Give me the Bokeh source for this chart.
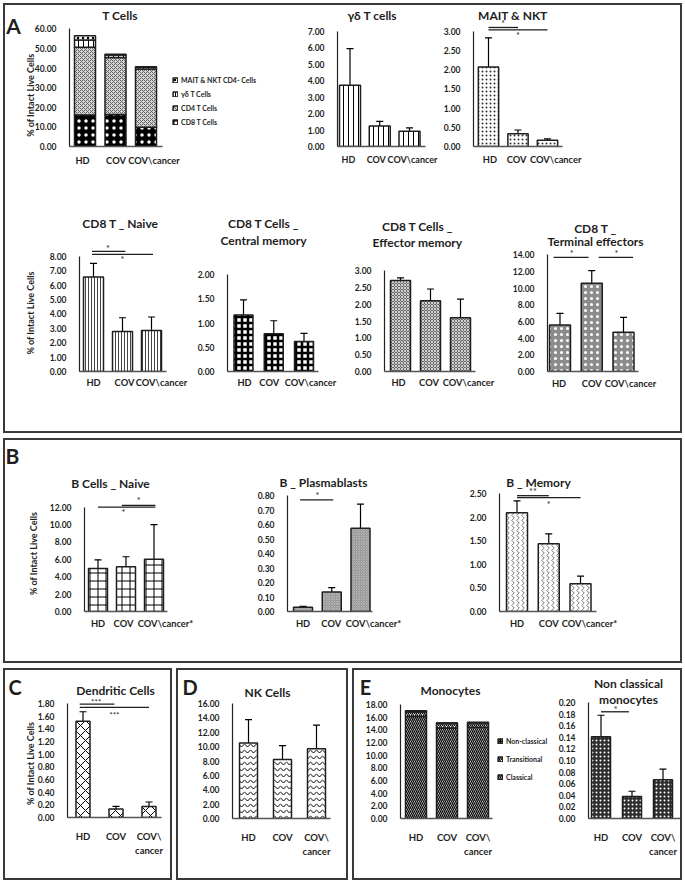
import numpy as np
from math import pi
from bokeh.plotting import figure
from bokeh.layouts import row, column
from bokeh.models import (Range1d, FixedTicker, NumeralTickFormatter, Whisker, TeeHead,
                          ColumnDataSource, Legend, LegendItem)
from bokeh.core.properties import value
from bokeh.embed import file_html
from bokeh.resources import INLINE

FONT = "Lato"
INK = "#1e1e1e"
FRAME = "2px solid #3a3a3a"

# ---------------- data ----------------
categories = ["HD", "COV", "COV\\cancer"]
categories_b = ["HD", "COV", "COV\\cancer*"]
categories_2l = ["HD", "COV", "COV\\\ncancer"]

# A - T cells (stacked)
tcell_series = ["CD8 T Cells", "CD4 T Cells", "\u03b3\u03b4 T Cells", "MAIT & NKT CD4- Cells"]
tcell_cd8 = [16.0, 16.3, 9.8]
tcell_cd4 = [34.6, 29.1, 29.7]
tcell_gd = [3.7, 1.25, 0.93]
tcell_mait = [2.1, 0.35, 0.17]

gd_mean = [3.72, 1.25, 0.93]
gd_err = [2.23, 0.28, 0.20]
mait_mean = [2.07, 0.33, 0.16]
mait_err = [0.76, 0.10, 0.04]
mait_sig_x0 = [0.0, 0.0]
mait_sig_x1 = [1.0, 2.0]
mait_sig_y = [3.10, 3.04]
mait_star_x = [0.5, 1.0]
mait_star_y = [3.20, 2.88]
mait_star_txt = ["*", "*"]

naive_mean = [6.55, 2.78, 2.85]
naive_err = [0.95, 0.95, 0.93]
naive_sig_x0 = [-0.05, -0.05]
naive_sig_x1 = [1.1, 2.05]
naive_sig_y = [8.33, 8.12]
naive_star_x = [0.5, 1.0]
naive_star_y = [8.55, 7.75]
naive_star_txt = ["*", "*"]

cm_mean = [1.17, 0.78, 0.62]
cm_err = [0.31, 0.27, 0.17]

em_mean = [2.70, 2.10, 1.60]
em_err = [0.08, 0.35, 0.55]

te_mean = [5.58, 10.6, 4.70]
te_err = [1.40, 1.50, 1.80]
te_sig_x0 = [-0.2, 1.22]
te_sig_x1 = [0.9, 2.3]
te_sig_y = [13.7, 13.7]
te_star_x = [0.37, 1.78]
te_star_y = [14.2, 14.2]
te_star_txt = ["*", "*"]

# B
bn_mean = [4.95, 5.15, 6.00]
bn_err = [1.00, 1.15, 4.00]
bn_sig_x0 = [0.0, 0.85]
bn_sig_x1 = [2.05, 2.05]
bn_sig_y = [12.0, 12.22]
bn_star_x = [1.45, 0.91]
bn_star_y = [12.75, 11.35]
bn_star_txt = ["*", "*"]

pb_mean = [0.03, 0.135, 0.575]
pb_err = [0.005, 0.03, 0.165]
pb_sig_x0 = [-0.1]
pb_sig_x1 = [1.05]
pb_sig_y = [0.77]
pb_star_x = [0.5]
pb_star_y = [0.80]
pb_star_txt = ["*"]

bm_mean = [2.10, 1.44, 0.59]
bm_err = [0.25, 0.21, 0.16]
bm_sig_x0 = [0.0, 0.0]
bm_sig_x1 = [1.0, 2.0]
bm_sig_y = [2.46, 2.42]
bm_star_x = [0.5, 1.0]
bm_star_y = [2.55, 2.27]
bm_star_txt = ["**", "*"]

# C
dc_mean = [1.52, 0.135, 0.175]
dc_err = [0.15, 0.04, 0.07]
dc_sig_x0 = [-0.1, -0.1]
dc_sig_x1 = [0.95, 2.0]
dc_sig_y = [1.79, 1.74]
dc_star_x = [0.4, 0.95]
dc_star_y = [1.83, 1.62]
dc_star_txt = ["***", "***"]

# D
nk_mean = [10.5, 8.2, 9.7]
nk_err = [3.25, 1.95, 3.3]

# E
mono_series = ["Classical", "Transitional", "Non-classical"]
mono_classical = [16.1, 14.3, 14.4]
mono_transitional = [0.76, 0.76, 0.73]
mono_nonclassical = [0.141, 0.038, 0.067]

nc_mean = [0.141, 0.038, 0.067]
nc_err = [0.037, 0.009, 0.018]
nc_sig_x0 = [0.0]
nc_sig_x1 = [0.9]
nc_sig_y = [0.184]
nc_star_x = [0.47]
nc_star_y = [0.188]
nc_star_txt = ["*"]


# ---------------- helpers ----------------
def add_text(p, xs, ys, texts, size, angle=0.0, bold=True):
    p.text(x=xs, y=ys, text=texts, angle=angle, text_font=value(FONT),
           text_font_style="bold" if bold else "normal", text_font_size=size,
           text_align="center", text_baseline="middle", text_color=INK, level="overlay")


def make_chart(canvas, axis_x, axis_end, c0, step_px, zero_px, top_px, ymax, ytick,
               xlabels, lab_off=None, lab_y=None, lab_size="9.3px"):
    x0, y0, w, h = canvas
    k = (zero_px - top_px) / ymax

    def dx(px):
        return (px - c0) / step_px

    def dy(py):
        return (zero_px - py) / k

    p = figure(width=w, height=h, title=None, output_backend="svg", toolbar_location=None,
               x_range=Range1d(dx(axis_x), dx(x0 + w)), y_range=Range1d(0, dy(y0)),
               min_border_left=axis_x - x0, min_border_right=0, min_border_top=0,
               min_border_bottom=y0 + h - zero_px)
    p.outline_line_color = None
    p.xgrid.visible = False
    p.ygrid.visible = False
    p.background_fill_color = "white"
    p.border_fill_color = "white"

    xa = p.xaxis[0]
    xa.bounds = (dx(axis_x), dx(axis_end))
    xa.axis_line_color = "#555555"
    xa.axis_line_width = 1.5
    xa.major_tick_line_color = None
    xa.minor_tick_line_color = None
    xa.major_label_standoff = 7
    xa.major_label_text_font = FONT
    xa.major_label_text_font_style = "bold"
    xa.major_label_text_font_size = "9.5px"
    xa.major_label_text_color = INK
    xa.major_label_text_line_height = 1.3
    if lab_off is None:
        xa.ticker = FixedTicker(ticks=list(range(len(xlabels))))
        xa.major_label_overrides = {i: lab for i, lab in enumerate(xlabels)}
    else:
        # category names drawn as text, nudged sideways so that they don't collide
        xa.ticker = FixedTicker(ticks=[])
        xs = [i + o / step_px for i, o in enumerate(lab_off)]
        add_text(p, xs, [dy(lab_y)] * len(xlabels), xlabels, lab_size)

    ya = p.yaxis[0]
    n = int(round(ymax / ytick))
    ya.ticker = FixedTicker(ticks=[round(ytick * i, 6) for i in range(n + 1)])
    ya.formatter = NumeralTickFormatter(format="0.00")
    ya.bounds = (0, ymax)
    ya.axis_line_color = "#222222"
    ya.axis_line_width = 1.2
    ya.major_tick_line_color = None
    ya.minor_tick_line_color = None
    ya.major_label_standoff = 7
    ya.major_label_text_font = FONT
    ya.major_label_text_font_style = "bold"
    ya.major_label_text_font_size = "8.5px"
    ya.major_label_text_color = INK
    return p, dx, dy


def add_bars(p, vals, errs, width, **style):
    xs = list(range(len(vals)))
    src = ColumnDataSource(dict(x=xs, top=vals,
                                lower=list(np.subtract(vals, errs)),
                                upper=list(np.add(vals, errs))))
    p.vbar(x="x", top="top", bottom=0, width=width, source=src,
           line_color=INK, line_width=1.5, **style)
    head = dict(size=7, line_color="black", line_width=1.2)
    p.add_layout(Whisker(source=src, base="x", upper="upper", lower="lower",
                         line_color="black", line_width=1.2,
                         upper_head=TeeHead(**head), lower_head=TeeHead(**head)))


def add_sig(p, x0, x1, y, sx, sy, txt, size="9px"):
    p.segment(x0=x0, y0=y, x1=x1, y1=y, line_color=INK, line_width=1.3, level="overlay")
    add_text(p, sx, sy, txt, size, bold=False)


def add_label(p, dx, dy, px, py, text, size="12px", angle=0.0):
    add_text(p, [dx(px)], [dy(py)], [text], size, angle=angle)


YLAB = "% of Intact Live Cells"

# ---------------- Panel A ----------------
pT, dx, dy = make_chart((5, 5, 285, 170), 69, 162, 84.5, 30.5, 146, 28.3, 60, 10,
                        categories, [-2.5, 0.5, 8], 160)
bw = 21 / 30.5
xs = list(range(3))
b1 = np.array(tcell_cd8)
b2 = b1 + np.array(tcell_cd4)
b3 = b2 + np.array(tcell_gd)
b4 = b3 + np.array(tcell_mait)
r1 = pT.vbar(x=xs, bottom=0, top=list(b1), width=bw, fill_color="black", line_color=INK,
             line_width=1.5, hatch_pattern=".", hatch_color="white", hatch_scale=7)
r2 = pT.vbar(x=xs, bottom=list(b1), top=list(b2), width=bw, fill_color="#d4d4d4", line_color=INK,
             line_width=1.5, hatch_pattern="x", hatch_color="#666666", hatch_scale=4)
r3 = pT.vbar(x=xs, bottom=list(b2), top=list(b3), width=bw, fill_color="white", line_color=INK,
             line_width=1.5, hatch_pattern="|", hatch_color="black", hatch_scale=5)
r4 = pT.vbar(x=xs, bottom=list(b3), top=list(b4), width=bw, fill_color="white", line_color=INK,
             line_width=1.5, hatch_pattern=".", hatch_color="black", hatch_scale=5)
legT = Legend(items=[LegendItem(label=tcell_series[3], renderers=[r4]),
                     LegendItem(label=tcell_series[2], renderers=[r3]),
                     LegendItem(label=tcell_series[1], renderers=[r2]),
                     LegendItem(label=tcell_series[0], renderers=[r1])],
              location=(103, 20), glyph_width=6, glyph_height=6, label_height=7,
              label_standoff=3, spacing=6, padding=0, margin=0,
              border_line_color=None, background_fill_alpha=0,
              label_text_font=FONT, label_text_font_style="bold",
              label_text_font_size="7px", label_text_color=INK)
pT.add_layout(legT)
add_label(pT, dx, dy, 119.5, 14.5, "T Cells")
add_label(pT, dx, dy, 13, 24.5, "A", size="21px")
add_label(pT, dx, dy, 30, 94.7, YLAB, size="9px", angle=pi / 2)

pGD, dx, dy = make_chart((290, 5, 150, 170), 337, 425, 349.5, 29.75, 147, 31, 7, 1,
                         categories, [-1.5, -3.5, 3], 160, "9px")
add_bars(pGD, gd_mean, gd_err, 21 / 29.75, fill_color="white", hatch_pattern="|",
         hatch_color="black", hatch_scale=5)
add_label(pGD, dx, dy, 371.7, 15, "\u03b3\u03b4 T cells")

pMA, dx, dy = make_chart((440, 5, 240, 170), 466, 558, 481.5, 30.5, 147, 31, 3, 0.5,
                         categories, [1.5, -1.5, 8.5], 160)
add_bars(pMA, mait_mean, mait_err, 21 / 30.5, fill_color="white", hatch_pattern=".",
         hatch_color="#333333", hatch_scale=4)
add_sig(pMA, mait_sig_x0, mait_sig_x1, mait_sig_y, mait_star_x, mait_star_y, mait_star_txt)
add_label(pMA, dx, dy, 506.7, 15, "MAIT & NKT")

pN, dx, dy = make_chart((5, 175, 185, 256), 79, 166, 93, 29, 371, 255.7, 8, 1,
                        categories, [0, 2, 10], 382)
add_bars(pN, naive_mean, naive_err, 20 / 29, fill_color="white", hatch_pattern="|",
         hatch_color="#444444", hatch_scale=3)
add_sig(pN, naive_sig_x0, naive_sig_x1, naive_sig_y, naive_star_x, naive_star_y, naive_star_txt)
add_label(pN, dx, dy, 120, 223, "CD8 T _ Naive")
add_label(pN, dx, dy, 30, 312.5, YLAB, size="9px", angle=pi / 2)

pCM, dx, dy = make_chart((190, 175, 150, 256), 227, 318, 243, 30.25, 371, 274.3, 2, 0.5,
                         categories, [1, -4.5, 6.5], 382)
add_bars(pCM, cm_mean, cm_err, 19 / 30.25, fill_color="white", hatch_pattern="+",
         hatch_color="black", hatch_scale=6, hatch_weight=2.5)
add_label(pCM, dx, dy, 263, 223.3, "CD8 T Cells _")
add_label(pCM, dx, dy, 263, 240, "Central memory")

pEM, dx, dy = make_chart((340, 175, 158, 256), 384, 475, 400, 30, 371, 270, 3, 0.5,
                         categories, [-2, -1.5, 8], 382)
add_bars(pEM, em_mean, em_err, 20 / 30, fill_color="#6a6a6a", hatch_pattern="x",
         hatch_color="#d0d0d0", hatch_scale=3)
add_label(pEM, dx, dy, 417, 225.7, "CD8 T Cells _")
add_label(pEM, dx, dy, 417, 241.7, "Effector memory")

pTE, dx, dy = make_chart((498, 175, 182, 256), 547, 638, 559.5, 31.75, 371, 254.3, 14, 2,
                         categories, [-1, 0, 7], 382.5)
add_bars(pTE, te_mean, te_err, 21 / 31.75, fill_color="#8c8c8c", hatch_pattern=".",
         hatch_color="white", hatch_scale=6)
add_sig(pTE, te_sig_x0, te_sig_x1, te_sig_y, te_star_x, te_star_y, te_star_txt)
add_label(pTE, dx, dy, 595, 228, "CD8 T _")
add_label(pTE, dx, dy, 595, 241, "Terminal effectors")

# ---------------- Panel B ----------------
pBN, dx, dy = make_chart((5, 440, 215, 221), 84, 167, 97.5, 28, 611, 506.7, 12, 2,
                         categories_b, [0, -2.5, 11.5], 623.3)
add_bars(pBN, bn_mean, bn_err, 19 / 28, fill_color="white", hatch_pattern="+",
         hatch_color="black", hatch_scale=8)
add_sig(pBN, bn_sig_x0, bn_sig_x1, bn_sig_y, bn_star_x, bn_star_y, bn_star_txt)
add_label(pBN, dx, dy, 110, 482.7, "B Cells _ Naive")
add_label(pBN, dx, dy, 12, 455, "B", size="21px")
add_label(pBN, dx, dy, 33, 553, YLAB, size="9px", angle=pi / 2)

pPB, dx, dy = make_chart((220, 440, 220, 221), 287, 372, 302.5, 28.75, 611, 495, 0.8, 0.1,
                         categories_b, [0, -0.5, 13], 623.3)
add_bars(pPB, pb_mean, pb_err, 19 / 28.75, fill_color="#7a7a7a", hatch_pattern="x",
         hatch_color="#bbbbbb", hatch_scale=2.5)
add_sig(pPB, pb_sig_x0, pb_sig_x1, pb_sig_y, pb_star_x, pb_star_y, pb_star_txt)
add_label(pPB, dx, dy, 323, 482, "B _ Plasmablasts")

pBM, dx, dy = make_chart((440, 440, 240, 221), 499, 596, 516.5, 31.75, 611, 493.3, 2.5, 0.5,
                         categories_b, [0, 0, 9], 623.3)
add_bars(pBM, bm_mean, bm_err, 21 / 31.75, fill_color="white", hatch_pattern=">",
         hatch_color="#777777", hatch_scale=5)
add_sig(pBM, bm_sig_x0, bm_sig_x1, bm_sig_y, bm_star_x, bm_star_y, bm_star_txt)
add_label(pBM, dx, dy, 538, 482, "B _ Memory")

# ---------------- Panel C ----------------
pDC, dx, dy = make_chart((5, 670, 165, 208), 67, 161, 82.5, 33, 817, 703, 1.8, 0.2, categories_2l)
add_bars(pDC, dc_mean, dc_err, 14 / 33, fill_color="white", hatch_pattern="x",
         hatch_color="black", hatch_scale=10)
add_sig(pDC, dc_sig_x0, dc_sig_x1, dc_sig_y, dc_star_x, dc_star_y, dc_star_txt, size="8px")
add_label(pDC, dx, dy, 115, 690, "Dendritic Cells")
add_label(pDC, dx, dy, 14.5, 686.5, "C", size="20px")
add_label(pDC, dx, dy, 30, 763, YLAB, size="9px", angle=pi / 2)

# ---------------- Panel D ----------------
pNK, dx, dy = make_chart((178, 670, 168, 208), 232, 330, 248, 34, 818, 703, 16, 2, categories_2l)
add_bars(pNK, nk_mean, nk_err, 18 / 34, fill_color="white", hatch_pattern="v",
         hatch_color="black", hatch_scale=6)
add_label(pNK, dx, dy, 267, 692, "NK Cells")
add_label(pNK, dx, dy, 189.5, 686, "D", size="20px")

# ---------------- Panel E ----------------
pMO, dx, dy = make_chart((354, 670, 196, 208), 400, 492, 415.5, 31, 818, 704, 18, 2, categories_2l)
bwm = 21 / 31
m1 = np.array(mono_classical)
m2 = m1 + np.array(mono_transitional)
m3 = m2 + np.array(mono_nonclassical)
q1 = pMO.vbar(x=xs, bottom=0, top=list(m1), width=bwm, fill_color="white", line_color=INK,
              line_width=1.5, hatch_pattern="\\", hatch_color="black", hatch_scale=4,
              hatch_weight=1.3)
q2 = pMO.vbar(x=xs, bottom=list(m1), top=list(m2), width=bwm, fill_color="white", line_color=INK,
              line_width=1.5, hatch_pattern="/", hatch_color="black", hatch_scale=4,
              hatch_weight=1.3)
q3 = pMO.vbar(x=xs, bottom=list(m2), top=list(m3), width=bwm, fill_color="black", line_color=INK,
              line_width=1.5, hatch_pattern=".", hatch_color="white", hatch_scale=3)
legM = Legend(items=[LegendItem(label=mono_series[2], renderers=[q3]),
                     LegendItem(label=mono_series[1], renderers=[q2]),
                     LegendItem(label=mono_series[0], renderers=[q1])],
              location=(97, 37), glyph_width=6, glyph_height=6, label_height=7,
              label_standoff=3, spacing=10, padding=0, margin=0,
              border_line_color=None, background_fill_alpha=0,
              label_text_font=FONT, label_text_font_style="bold",
              label_text_font_size="7px", label_text_color=INK)
pMO.add_layout(legM)
add_label(pMO, dx, dy, 450, 690, "Monocytes")
add_label(pMO, dx, dy, 365, 686, "E", size="20px")

pNC, dx, dy = make_chart((550, 670, 130, 208), 588, 680, 600.5, 31, 818, 702, 0.2, 0.02, categories_2l)
add_bars(pNC, nc_mean, nc_err, 19 / 31, fill_color="#2e2e2e", hatch_pattern=".",
         hatch_color="white", hatch_scale=4)
add_sig(pNC, nc_sig_x0, nc_sig_x1, nc_sig_y, nc_star_x, nc_star_y, nc_star_txt)
add_label(pNC, dx, dy, 628, 682.7, "Non classical")
add_label(pNC, dx, dy, 628, 699.3, "monocytes")

# ---------------- layout ----------------
boxA = column(row(pT, pGD, pMA), row(pN, pCM, pEM, pTE), styles={"border": FRAME})
boxB = row(pBN, pPB, pBM, styles={"border": FRAME})
boxC = column(pDC, styles={"border": FRAME})
boxD = column(pNK, styles={"border": FRAME})
boxE = row(pMO, pNC, styles={"border": FRAME})
root = column(boxA, boxB, row(boxC, boxD, boxE, spacing=4), spacing=5,
              styles={"margin-left": "3px", "margin-top": "3px"})

open("out.html", "w").write(file_html(root, INLINE))
